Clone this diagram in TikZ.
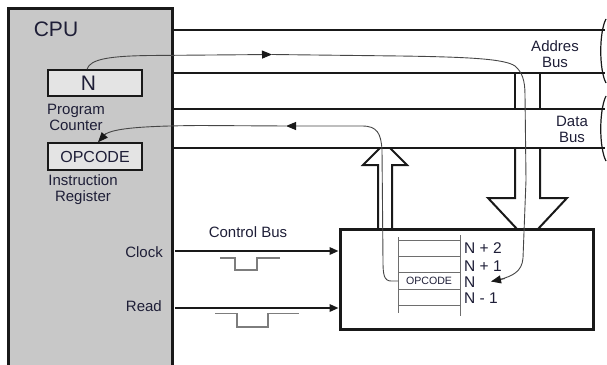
\documentclass[tikz,border=0pt]{standalone}
\usepackage{fontspec}
\setmainfont{Liberation Sans}
\usetikzlibrary{arrows.meta}
\definecolor{txt}{RGB}{30,30,55}
\definecolor{cpugray}{RGB}{200,200,200}
\definecolor{regfill}{RGB}{228,228,228}
\definecolor{lk}{RGB}{25,25,25}
\definecolor{flowc}{RGB}{70,70,70}
\definecolor{wavec}{RGB}{125,125,125}
\definecolor{stackc}{RGB}{110,110,110}
\newcommand\fsz[1]{\fontsize{#1}{#1}\selectfont}
\begin{document}
\begin{tikzpicture}[x=1pt,y=-1pt,
  lbl/.style={text=txt,inner sep=0pt,font=\fsz{15}},
  busline/.style={draw=lk,line width=1.8pt},
  blockarrow/.style={draw=lk,line width=2pt,line join=miter},
  ctrlline/.style={draw=lk,line width=1.8pt,-{Triangle[length=9pt,width=7.5pt]}},
  flowline/.style={draw=flowc,line width=0.9pt},
  flowarrow/.style={flowline,-{Triangle[length=10pt,width=8pt,color=lk]}},
  waveline/.style={draw=wavec,line width=1.2pt},
  stackline/.style={draw=stackc,line width=0.8pt},
  regbox/.style={draw=lk,line width=1.5pt,fill=regfill,minimum width=94pt,inner sep=0pt},
  breakline/.style={draw=lk,line width=1.2pt}]
\useasboundingbox (0,0) rectangle (607,364);

% CPU
\node[draw=lk,line width=3pt,fill=cpugray,minimum width=164pt,minimum height=364pt,inner sep=0pt] (cpu) at (90,190) {};
\node[lbl,font=\fsz{21}] (cputxt) at (56,29.5) {CPU};

% registers
\node[regbox,minimum height=26pt] (pc) at (95,83) {};
\node[lbl,font=\fsz{21}] (ntxt) at (88.5,83) {N};
\node[lbl,align=center,font=\fsz{15}\linespread{1}\selectfont] (pctxt) at (76,117.5) {Program\\[1.5pt]Counter};
\node[regbox,minimum height=27pt,text=txt,font=\fsz{16}] (ir) at (95,156.5) {OPCODE};
\node[lbl,align=center] (irtxt) at (83,190) {Instruction\\[1pt]Register};

% buses
\coordinate (ab1) at (605,30);
\coordinate (ab2) at (605,73);
\coordinate (db1) at (605,109);
\coordinate (db2) at (605,148);
\draw[busline] (cpu.east |- ab1) -- (ab1);
\draw[busline] (cpu.east |- ab2) -- (ab2);
\draw[busline] (cpu.east |- db1) -- (db1);
\draw[busline] (cpu.east |- db2) -- (db2);
\draw[breakline] (606,19) .. controls (599,32) and (599,70) .. (606,83);
\draw[breakline] (606,96) .. controls (599,110) and (599,148) .. (606,161);
\node[lbl,align=center] (abtxt) at (555,54) {Addres\\[1pt]Bus};
\node[lbl,align=center] (dbtxt) at (572,129.5) {Data\\[0.5pt]Bus};

% memory
\node[draw=lk,line width=3pt,minimum width=253pt,minimum height=100pt,inner sep=0pt] (mem) at (466.5,279) {};

% down block arrow (address bus to memory)
\draw[blockarrow] (515,73) -- (515,109);
\draw[blockarrow] (540,73) -- (540,109);
\draw[blockarrow] (515,148) -- (515,198) -- (488,198) -- (517,229);
\draw[blockarrow] (540,148) -- (540,198) -- (567,198) -- (538,229);

% up block arrow (memory to data bus)
\draw[blockarrow] (378,229) -- (378,165) -- (363,165) -- (380,148);
\draw[blockarrow] (392,229) -- (392,165) -- (407,165) -- (390,148);

% stack
\draw[stackline] (398,237) -- (398,313);
\draw[stackline] (460,235) -- (460,316);
\foreach \yy in {240,256.5,272,289,305} \draw[stackline] (398,\yy) -- (460,\yy);
\node[lbl,font=\fsz{10.6}] (opst) at (429,281) {OPCODE};
\node[lbl,font=\fsz{15.5},anchor=west] (n2) at (464,248) {N + 2};
\node[lbl,font=\fsz{15.5},anchor=west] (n1) at (464,266.5) {N + 1};
\node[lbl,font=\fsz{15.5},anchor=west] (n0) at (464,282) {N};
\node[lbl,font=\fsz{15.5},anchor=west] (nm1) at (464,298.5) {N - 1};

% control bus
\node[lbl] (ctrltxt) at (248,232) {Control Bus};
\node[lbl,anchor=east] (clk) at (163,252) {Clock};
\node[lbl,anchor=east] (rd) at (162,306) {Read};
\draw[ctrlline] (175,251) -- (mem.west |- 0,251);
\draw[ctrlline] (175,308) -- (mem.west |- 0,308);
\draw[waveline] (220,258) -- (235,258) -- (235,270) -- (257,270) -- (257,258) -- (280,258);
\draw[waveline] (215,313.5) -- (237,313.5) -- (237,327) -- (268,327) -- (268,313.5) -- (299,313.5);

% flow: program counter -> address -> memory N
\draw[flowarrow] ([xshift=-8pt]pc.north) .. controls (90,59) and (110,56) .. (150,55.5) -- (272,54.5);
\draw[flowline] (272,54.5) -- (400,56) .. controls (470,57) and (505,59) .. (515,66) .. controls (522,72) and (525,80) .. (525,95) -- (526,180) -- (523,258) .. controls (522,272) and (512,276) .. (500,279.5);
\draw[flowarrow] (505,278.5) -- (491,281.5);

% flow: memory OPCODE -> data bus -> instruction register
\draw[flowarrow] (398,281) -- (391,281) .. controls (384,281) and (383,274) .. (383,262) -- (382,150) .. controls (381,133) and (377,126) .. (362,126) -- (286,126);
\draw[flowline] (286,126) -- (200,125.5) .. controls (135,126) and (112,129) .. (104,135);
\draw[flowarrow] (106,133.5) -- ([xshift=3pt]ir.north);
\end{tikzpicture}
\end{document}
